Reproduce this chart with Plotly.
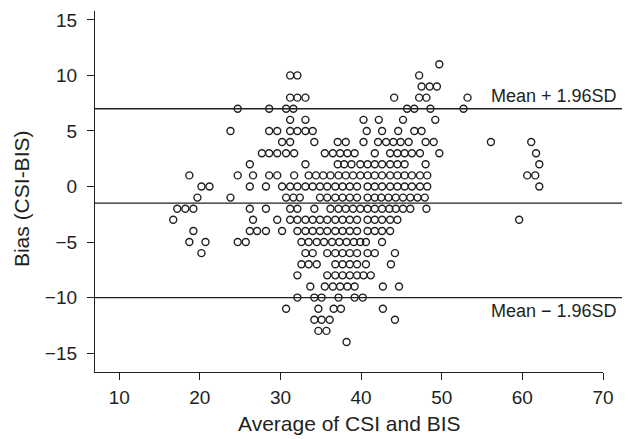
import plotly.graph_objects as go

# Bias levels (CSI-BIS, integer rows) and the averages observed at each level
bias_levels = [11, 10, 9, 8, 7, 6, 5, 4, 3, 2, 1, 0, -1, -2, -3, -4, -5, -6, -7,
               -8, -9, -10, -11, -12, -13, -14]
averages_per_level = [
    [49.7],
    [31.2, 32.1, 47.2],
    [47.5, 48.5, 49.4],
    [31.2, 32.1, 33.1, 44.1, 47.2, 48.1, 53.2],
    [24.7, 28.6, 30.7, 31.6, 45.7, 46.6, 48.6, 52.7],
    [31.2, 33.1, 40.3, 42.2, 45.2, 49.2],
    [23.8, 28.6, 29.6, 31.2, 32.1, 33.1, 34.0, 40.7, 42.6, 44.6, 46.6, 47.5],
    [30.2, 31.2, 34.2, 37.1, 38.1, 40.3, 42.1, 43.1, 44.0, 44.9, 45.9, 48.0, 49.0, 56.1, 61.1],
    [27.7, 28.6, 29.6, 30.7, 31.7, 35.5, 36.5, 37.4, 38.3, 39.2, 41.7, 43.6, 44.5, 45.4,
     46.3, 47.3, 49.7, 61.7],
    [26.2, 33.1, 37.1, 37.9, 38.8, 39.9, 40.8, 41.7, 42.6, 43.6, 44.5, 45.4, 48.0, 62.1],
    [18.7, 24.7, 26.6, 28.6, 29.6, 31.7, 33.5, 34.4, 35.3, 36.2, 37.2, 38.1, 39.0, 39.9,
     40.8, 41.7, 42.6, 43.6, 44.5, 45.4, 46.3, 47.3, 48.2, 60.6, 61.6],
    [20.2, 21.2, 26.2, 28.2, 30.2, 31.2, 32.1, 33.1, 34.0, 34.9, 35.8, 36.8, 37.7, 38.6,
     39.5, 40.8, 41.7, 42.6, 43.6, 44.5, 45.4, 46.3, 47.3, 48.2, 62.1],
    [19.7, 23.8, 30.7, 31.6, 32.4, 34.9, 35.8, 36.8, 37.7, 38.6, 39.5, 40.8, 41.7, 42.5,
     43.4, 44.3, 45.2, 46.1, 47.0, 47.9],
    [17.2, 18.2, 19.2, 26.2, 28.2, 31.2, 32.1, 34.2, 36.2, 37.2, 38.1, 39.0, 39.9, 40.8,
     41.7, 42.6, 43.5, 44.3, 45.2, 46.1, 48.1],
    [16.7, 26.6, 29.6, 31.2, 32.1, 33.1, 34.0, 34.9, 35.8, 36.8, 37.7, 38.6, 39.5, 40.8,
     41.7, 42.6, 43.6, 44.5, 59.6],
    [19.2, 26.2, 27.1, 28.2, 30.2, 32.1, 33.1, 34.0, 34.9, 35.8, 36.8, 37.7, 38.6, 39.5,
     40.8, 41.7, 42.6, 43.6],
    [18.7, 20.7, 24.7, 25.7, 32.6, 33.5, 34.5, 35.4, 36.4, 37.3, 38.2, 39.1, 39.9, 40.6, 42.6],
    [20.2, 33.1, 34.0, 35.8, 36.8, 37.7, 38.6, 39.5, 40.8, 41.7, 44.2],
    [32.6, 33.5, 34.5, 36.8, 37.7, 38.6, 39.5, 40.6, 43.7],
    [32.1, 35.8, 36.8, 37.7, 38.6, 39.5, 40.3, 41.2],
    [33.7, 35.5, 36.5, 37.4, 38.3, 39.2, 42.7, 44.7],
    [32.1, 34.2, 35.1, 37.2, 39.2, 40.2],
    [30.7, 34.7, 36.6, 37.5, 42.7],
    [34.2, 35.1, 36.1, 44.2],
    [34.7, 35.7],
    [38.2],
]

mean_bias = -1.5
upper_limit = 7.0
lower_limit = -10.0
upper_label = "Mean + 1.96SD"
lower_label = "Mean \u2212 1.96SD"

x_ticks = [10, 20, 30, 40, 50, 60, 70]
y_ticks = [-15, -10, -5, 0, 5, 10, 15]
x_title = "Average of CSI and BIS"
y_title = "Bias (CSI-BIS)"

xs, ys = [], []
for level, avgs in zip(bias_levels, averages_per_level):
    for a in avgs:
        xs.append(a)
        ys.append(level)

ink = "#231f20"
font_family = "Liberation Sans, Arial, sans-serif"

fig = go.Figure()
fig.add_trace(go.Scatter(
    x=xs, y=ys, mode="markers",
    marker=dict(symbol="circle-open", size=7, color=ink, line=dict(width=1.4, color=ink)),
    showlegend=False, hoverinfo="x+y",
))

for val in (upper_limit, mean_bias, lower_limit):
    fig.add_shape(type="line", xref="paper", yref="y", x0=0, x1=1.06, y0=val, y1=val,
                  line=dict(color=ink, width=1.3))

fig.add_annotation(x=55.8, y=upper_limit, xref="x", yref="y", text=upper_label,
                   showarrow=False, xanchor="left", yanchor="bottom", yshift=1,
                   font=dict(size=18, color=ink, family=font_family))
fig.add_annotation(x=55.8, y=lower_limit, xref="x", yref="y", text=lower_label,
                   showarrow=False, xanchor="left", yanchor="top", yshift=-1,
                   font=dict(size=18, color=ink, family=font_family))

fig.add_annotation(x=0.5, y=-0.18, xref="paper", yref="paper", text=x_title,
                   showarrow=False, xanchor="center", yanchor="bottom",
                   font=dict(size=21, color=ink, family=font_family))
fig.add_annotation(x=-0.145, y=0.48, xref="paper", yref="paper", text=y_title,
                   textangle=-90, showarrow=False, xanchor="center", yanchor="middle",
                   font=dict(size=21, color=ink, family=font_family))

axis_common = dict(showgrid=False, zeroline=False, showline=True, linecolor=ink, linewidth=1.3,
                   ticks="outside", ticklen=7, tickwidth=1.3, tickcolor=ink,
                   tickfont=dict(size=19, color=ink, family=font_family))

# the page body adds an 8px offset, so the figure is sized/placed to compensate
fig.update_layout(
    width=622, height=431,
    margin=dict(l=87, r=27, t=3, b=67),
    paper_bgcolor="white", plot_bgcolor="white",
    xaxis=dict(range=[7, 70], tickvals=x_ticks, ticklabelstandoff=1, **axis_common),
    yaxis=dict(range=[-16.7, 15.8], tickvals=y_ticks, ticklabelstandoff=6, **axis_common),
    font=dict(family=font_family, color=ink),
)

fig.write_html("out.html")
